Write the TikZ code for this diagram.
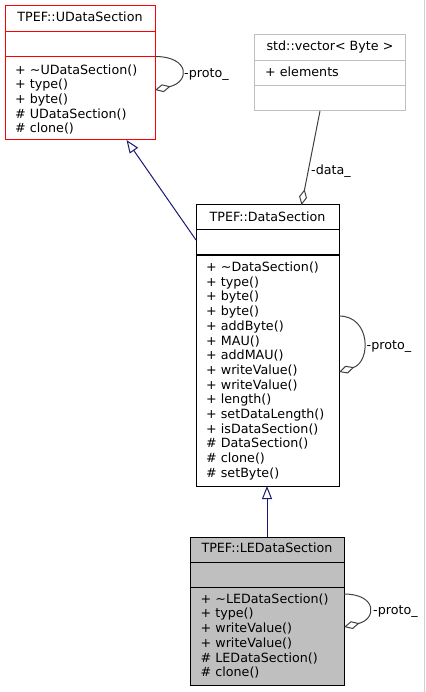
\documentclass[tikz,border=0pt]{standalone}
\usepackage{fontspec}
\setmainfont{DejaVu Sans}
\usetikzlibrary{arrows.meta,calc}
\definecolor{navyline}{HTML}{191970}
\definecolor{loopgray}{HTML}{404040}
\definecolor{boxgray}{HTML}{BFBFBF}
\definecolor{umlred}{HTML}{FF0000}
\definecolor{edgegray}{HTML}{D0D0D0}
\begin{document}
\begin{tikzpicture}[x=1pt,y=-1pt,
  txt/.style={inner sep=0pt, font=\fontsize{12.7}{14.7}\selectfont},
  members/.style={txt, align=left, anchor=north west},
  classtitle/.style={txt, anchor=base},
  boxframe/.style={line width=1pt, inner sep=0pt, outer sep=0pt, anchor=north west},
  sepline/.style={line width=1pt},
  inherit/.style={draw=navyline, line width=1pt, -{Triangle[open, length=13pt, width=10pt]}},
  aggreg/.style={draw=loopgray, line width=1pt, -{Diamond[open, length=16pt, width=8pt]}},
  lbl/.style={txt, anchor=base west}]
\useasboundingbox (0,0) rectangle (425,692);
\draw[edgegray, line width=1pt] (424.5,0) -- (424.5,692);

% UDataSection
\node[boxframe, draw=umlred, minimum width=150pt, minimum height=134pt] (ud) at (5,6) {};
\draw[sepline, draw=umlred] (5,31.5) -- (155,31.5);
\draw[sepline, draw=umlred] (5,56.5) -- (155,56.5);
\node[classtitle] (udt) at (80,21.9) {TPEF::UDataSection};
\node[members] (udm) at (15,64.2) {+ \textasciitilde UDataSection()\\+ type()\\+ byte()\\\# UDataSection()\\\# clone()};

% std::vector
\node[boxframe, draw=boxgray, minimum width=151pt, minimum height=76pt] (vec) at (254.5,35) {};
\draw[sepline, draw=boxgray] (254.5,60.5) -- (405.5,60.5) (254.5,86) -- (405.5,86);
\node[classtitle] (vect) at (330,50.6) {std::vector< Byte >};
\node[lbl] (vecm) at (265,76.9) {+ elements};

% DataSection
\node[boxframe, draw=black, minimum width=143pt, minimum height=281pt] (ds) at (196,205) {};
\draw[sepline] (196,230) -- (339,230) (196,255) -- (339,255);
\node[classtitle] (dst) at (267.5,221.3) {TPEF::DataSection};
\node[members] (dsm) at (206,261.7) {+ \textasciitilde DataSection()\\+ type()\\+ byte()\\+ byte()\\+ addByte()\\+ MAU()\\+ addMAU()\\+ writeValue()\\+ writeValue()\\+ length()\\+ setDataLength()\\+ isDataSection()\\\# DataSection()\\\# clone()\\\# setByte()};

% LEDataSection
\node[boxframe, draw=black, fill=boxgray, minimum width=154pt, minimum height=148pt] (le) at (190,537) {};
\draw[sepline] (190,562) -- (344,562) (190,587.5) -- (344,587.5);
\node[classtitle] (let) at (267,552.9) {TPEF::LEDataSection};
\node[members] (lem) at (200.5,593.4) {+ \textasciitilde LEDataSection()\\+ type()\\+ writeValue()\\+ writeValue()\\\# LEDataSection()\\\# clone()};

% connectors
\draw[inherit] ([yshift=-35pt]ds.north west) -- ([xshift=121.5pt]ud.south west);
\draw[inherit] (le.north) -- (le.north |- ds.south);
\draw[aggreg] ([xshift=65.5pt]vec.south west) -- ([xshift=105.5pt]ds.north west);
\node[lbl] (vecl) at (311,175) {-data\_};

\draw[aggreg] ([yshift=-50.5pt]ud.north east) .. controls +(35,0) and +(35,-8) .. ([yshift=-84pt]ud.north east);
\node[lbl] (udl) at (184,77.5) {-proto\_};
\draw[aggreg] ([yshift=-111pt]ds.north east) .. controls +(32,0) and +(32,-10) .. ([yshift=-167pt]ds.north east);
\node[lbl] (dsl) at (366.5,349) {-proto\_};
\draw[aggreg] ([yshift=-57pt]le.north east) .. controls +(33,0) and +(33,-8) .. ([yshift=-90pt]le.north east);
\node[lbl] (lel) at (373,614) {-proto\_};
\end{tikzpicture}
\end{document}
